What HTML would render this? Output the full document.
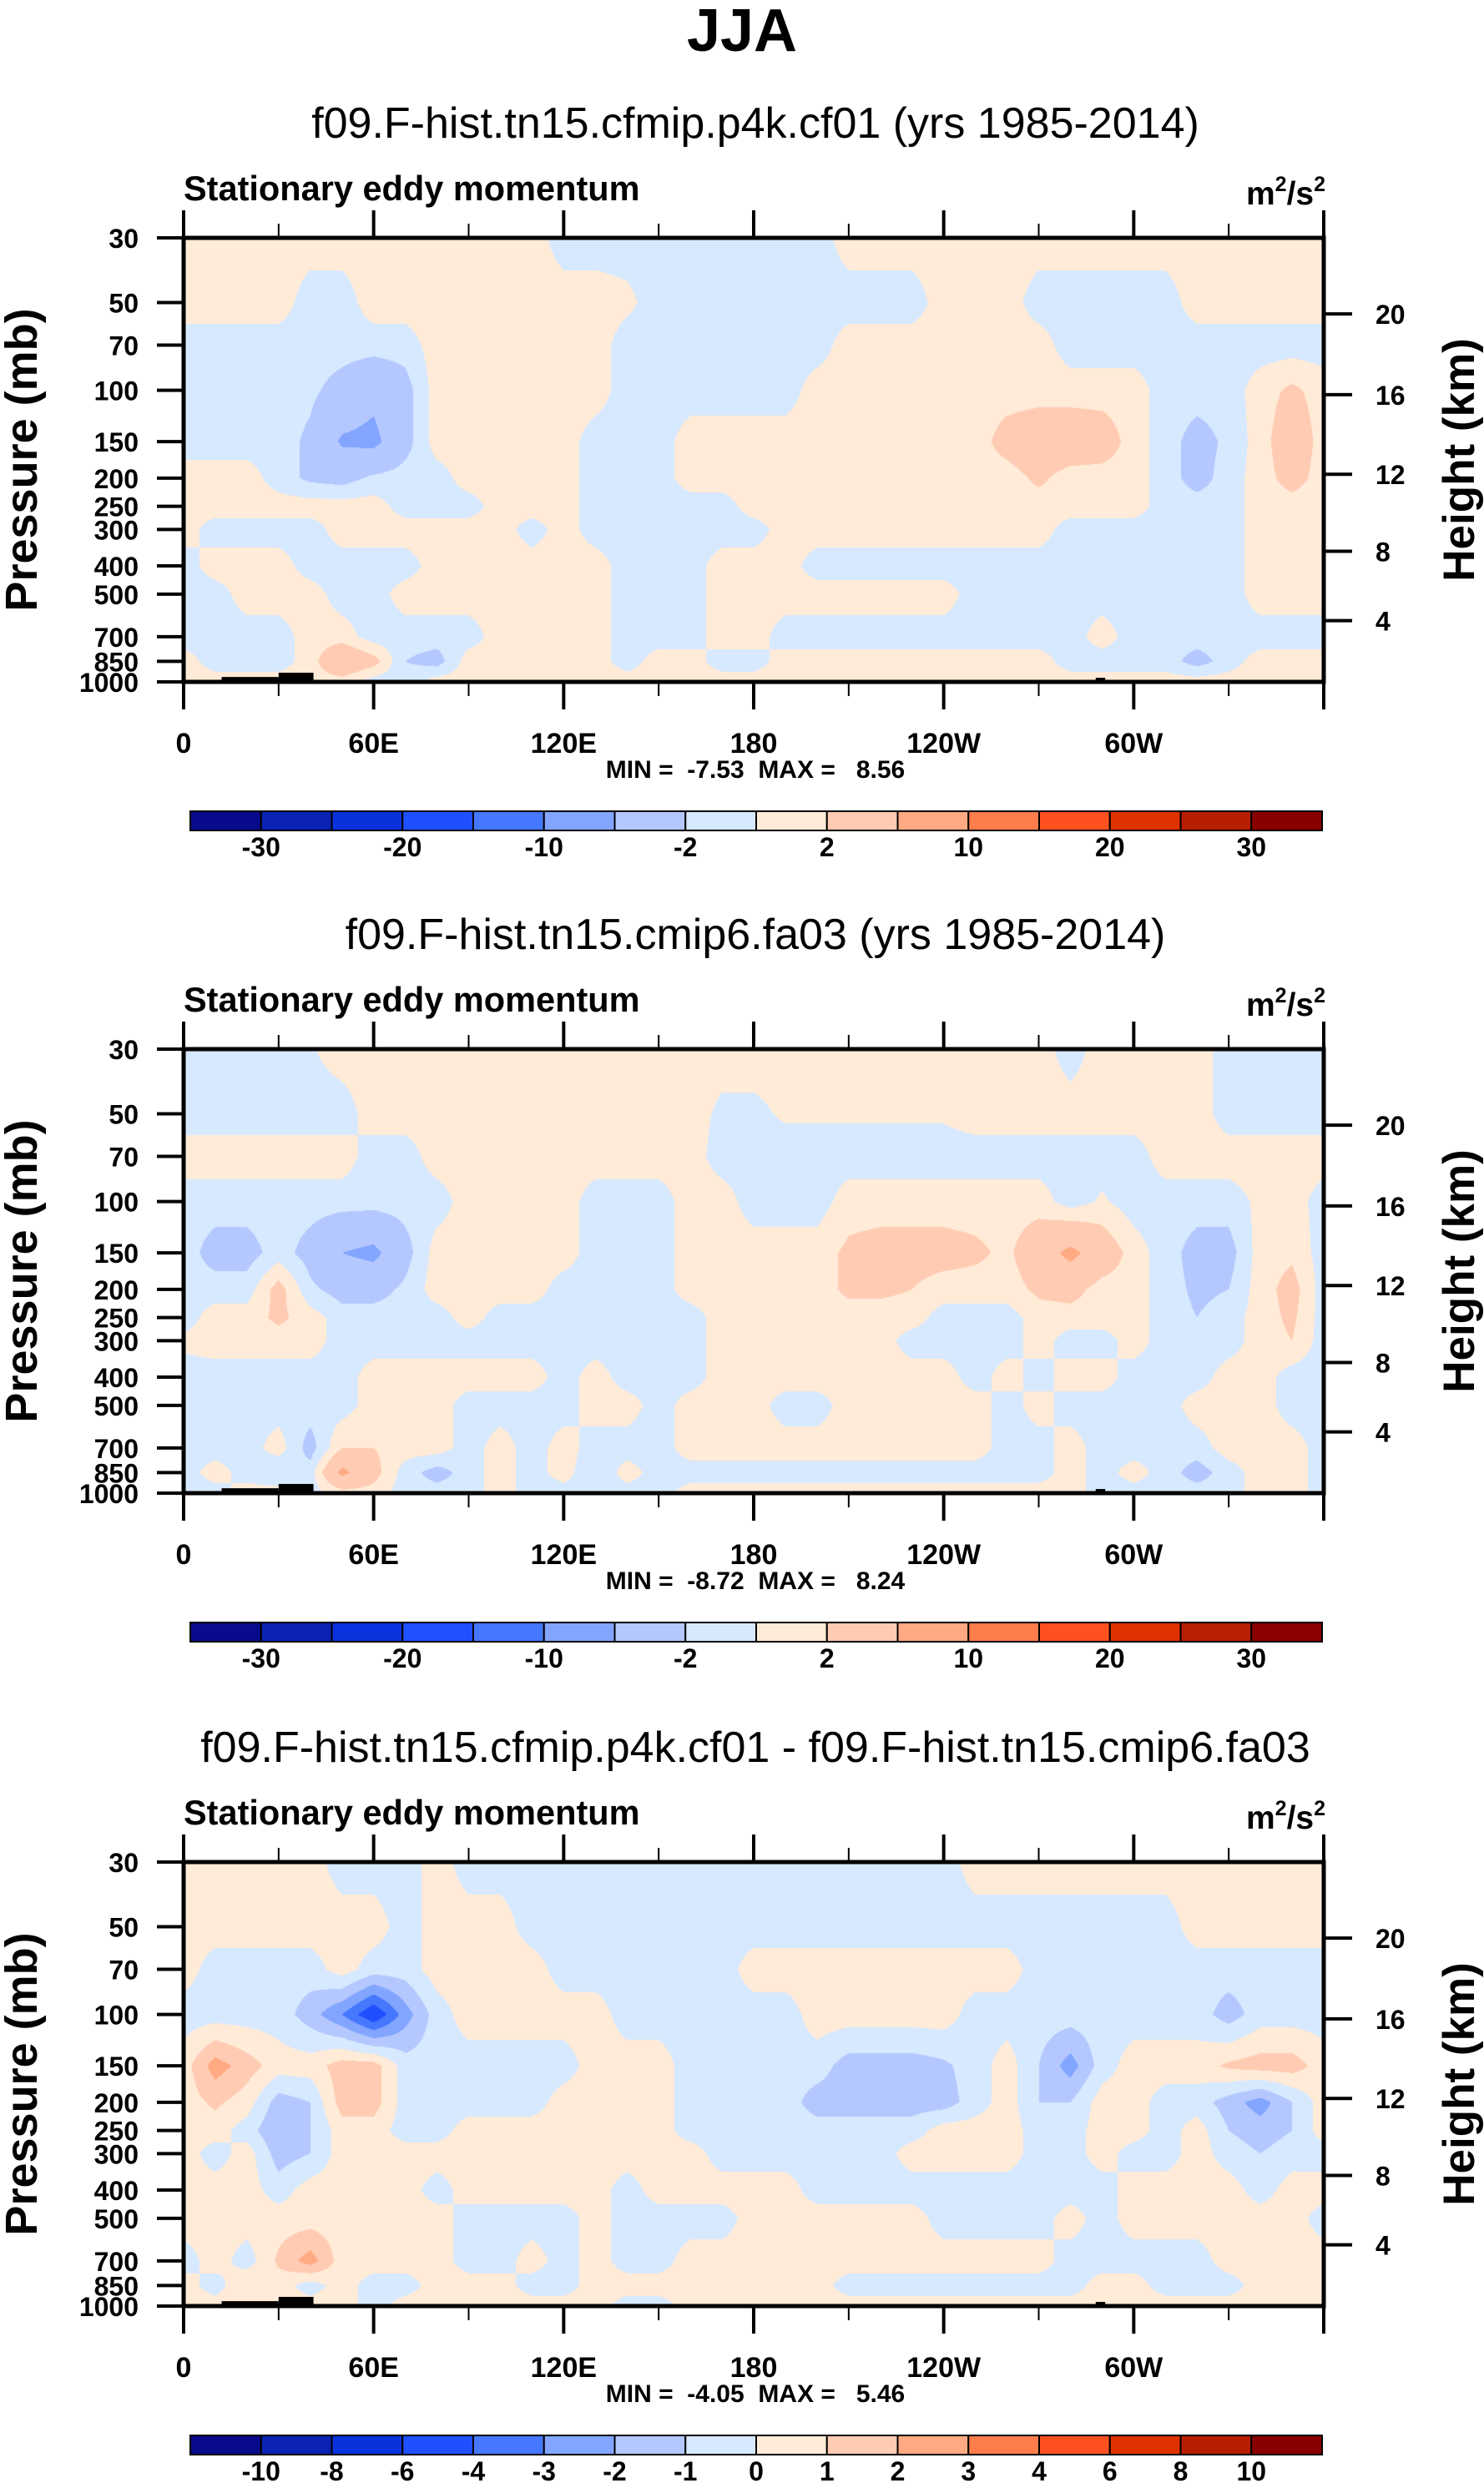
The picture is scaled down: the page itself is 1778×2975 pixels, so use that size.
<!DOCTYPE html>
<html><head><meta charset="utf-8"><title>JJA Stationary eddy momentum</title>
<style>
html,body{margin:0;padding:0;background:#fff;}
#wrap{position:relative;width:1778px;height:2975px;overflow:hidden;background:#fff;font-family:"Liberation Sans",sans-serif;}
canvas{position:absolute;}
svg{position:absolute;left:0;top:0;}
text{font-family:"Liberation Sans",sans-serif;}
</style></head>
<body>
<div id="wrap">
<canvas id="c0" width="1366" height="532" style="left:220px;top:285px"></canvas>
<canvas id="c1" width="1366" height="532" style="left:220px;top:1257px"></canvas>
<canvas id="c2" width="1366" height="532" style="left:220px;top:2231px"></canvas>
<svg id="ov" width="1778" height="2975" xmlns="http://www.w3.org/2000/svg">
<text x="889" y="61" text-anchor="middle" font-size="72" font-weight="bold">JJA</text>
</svg>
</div>
<script>
// ---------------- data ----------------
const lonCats = [0,10,20,30,40,50,60,70,80,90,100,110,120,130,140,150,160,170,180,190,200,210,220,230,240,250,260,270,280,290,300,310,320,330,340,350,360];
const presLevels = [30,50,70,100,150,200,250,300,400,500,700,850,1000];
const levelsAbs = [-30,-25,-20,-15,-10,-6,-2,0,2,6,10,15,20,25,30];
const levelsDiff = [-10,-8,-6,-4,-3,-2,-1,0,1,2,3,4,6,8,10];
const labelsAbs = ["-30","","-20","","-10","","-2","","2","","10","","20","","30"];
const labelsDiff = ["-10","-8","-6","-4","-3","-2","-1","0","1","2","3","4","6","8","10"];
const xTickLabels = ["0","60E","120E","180","120W","60W"];
const pTickLabels = [30,50,70,100,150,200,250,300,400,500,700,850,1000];
const hTickLabels = [4,8,12,16,20];
const hTickPres = [616.6,356.5,194.0,103.5,54.7];
const subtitles = ["f09.F-hist.tn15.cfmip.p4k.cf01 (yrs 1985-2014)","f09.F-hist.tn15.cmip6.fa03 (yrs 1985-2014)","f09.F-hist.tn15.cfmip.p4k.cf01 - f09.F-hist.tn15.cmip6.fa03"];
const minMax = ["MIN =  -7.53  MAX =   8.56","MIN =  -8.72  MAX =   8.24","MIN =  -4.05  MAX =   5.46"];
const topoLon0 = [12,30,288,291];
const topoLon1 = [30,41,291,308];
const topoPres = [962,930,968,988];

const p1Vals = [
[1,1,1,1,1,1,1,1,1,1,1,1,-1,-1,-1,-1,-1,-1,-1,-1,-1,1,1,1,1,1,1,1,1,1,1,1,1,1,1,1,1],
[1,1,1,1,-1,-1,1,1,1,1,1,1,1,1,0.5,-1,-1,-1,-1,-1,-1,-1,-1,-1,1,1,1,-1,-1,-1,-1,-1,1,1,1,1,1],
[-1,-1,-1,-1,-1,-1,-1,-1,1,1,1,1,1,1,-1,-1,-1,-1,-1,-1,-1,1,1,1,1,1,1,1,-1,-1,-1,-1,-1,-1,-1,-1,-1],
[-1,-1,-1,-1,-1.5,-3,-5,-3,1,1,1,1,1,1,-1,-1,-1,-1,-1,-1,1,1,1,1,1,1,1,1,1,1,1,-1,-1,-1,1,2.5,1],
[-1,-1,-1,-1,-2.5,-6.5,-7,-3,1,1,1,1,1,-1,-1,-1,1,1,1,1,1,1,1,1,1,1,3,4,4,3.5,1,-1,-3,-1.5,1,4,1],
[1,1,1,-1,-2.5,-3,-1.5,-1,-1,1,1,1,1,-1,-1,-1,1,1,1,1,1,1,1,1,1,1,1,2.5,1,1,1,-1,-3,-1,1,3,1],
[1,1,1,1,1,1,1,-1,-1,-1,1,1,1,-1,-1,-1,-1,-1,1,1,1,1,1,1,1,1,1,1,1,1,1,-1,-1,-1,1,1,1],
[1,-1,-1,-1,-1,1,1,1,1,1,1,-1,1,-1,-1,-1,-1,-1,-1,1,1,1,1,1,1,1,1,1,-1,-1,-1,-1,-1,-1,1,1,1],
[-1,1,1,1,-1,-1,-1,-1,1,1,1,1,1,1,-1,-1,-1,1,1,1,-1,-1,-1,-1,-1,-1,-1,-1,-1,-1,-1,-1,-1,-1,1,1,1],
[-1,-1,1,1,1,-1,-1,1,1,1,1,1,1,1,-1,-1,-1,1,1,1,1,1,1,1,1,-1,-1,-1,-1,-1,-1,-1,-1,-1,1,1,1],
[-1,-1,-1,-1,1,1,-1,-1,-1,-1,1,1,1,1,-1,-1,-1,1,1,-1,-1,-1,-1,-1,-1,-1,-1,-1,-1,1,-1,-1,-1,-1,-1,-1,-1],
[1,-1,-1,-1,1,5,3,-2,-3,1,1,1,1,1,-1,1,1,-1,-1,1,1,1,1,1,1,1,1,1,-1,-1,-1,-1,-3,-1,1,1,1],
[1,1,1,1,1,1,-1,-1,1,1,1,1,1,1,1,1,1,1,1,1,1,1,1,1,1,1,1,1,1,1,1,1,1,1,1,1,1]
];
const p2Vals = [
[-1,-1,-1,-1,-0.2,1,1,1,1,1,1,1,1,1,1,1,1,1,1,1,1,1,1,1,1,1,1,1,-1,1,1,1,1,-1,-1,-1,-1],
[-1,-1,-1,-1,-1,-1,1,1,1,1,1,1,1,1,1,1,1,-0.5,-0.5,0.3,0.3,0.3,0.3,0.3,0.3,1,1,1,1,1,1,1,1,-1,-1,-1,-1],
[1,1,1,1,1,1,-1,-1,1,1,1,1,1,1,1,1,1,-1,-1,-1,-1,-1,-1,-1,-1,-1,-1,-1,-1,-1,-1,1,1,1,1,1,1],
[-1,-1,-1,-1,-1,-1,-1,-1,-1,1,1,1,1,-1,-1,-1,1,1,-1,-1,-1,1,1,1,1,1,1,1,-1,0.3,-1,-1,-1,-1,0.5,1,-1],
[-1,-3,-3,-1,-3,-6,-7,-3,1,1,1,1,1,-1,-1,-1,1,1,1,1,1,2.5,3,3,3,2.5,1.5,4,7,4,1,-1,-3,-3,1,1.5,-1],
[-1,-1,-1,3,-1.5,-3,-3,-1.5,1,1,1,1,-1,-1,-1,-1,1,1,1,1,1,2.5,2.5,2,1,1,1,2.5,3,1,1,-1,-2.5,-2,1,3,-1],
[-1,1,1,2.5,1,-1,-1,-1,-1,1,-1,-1,-1,-1,-1,-1,-1,1,1,1,1,1,1,1,-1,-1,-1,1,1,1,1,-1,-2,-1,1,2.5,-1],
[0.5,1,1,1,1,-1,-1,-1,-1,-1,-1,-1,-1,-1,-1,-1,-1,1,1,1,1,1,1,-1,-1,-1,-1,1,-1,-1,1,-1,-1,-1,1,2,-1],
[-1,-1,-1,-1,-1,-1,1,1,1,1,1,1,-1,1,-1,-1,-1,1,1,1,1,1,1,1,1,-1,1,-1,1,1,-1,-1,-1,1,1,-1,-1],
[-1,-1,-1,-1,-1,-1,1,1,1,-1,-1,-1,-1,1,1,-1,1,1,1,-1,-1,1,1,1,1,1,-1,1,-1,-1,-1,-1,1,1,1,-1,-1],
[-1,-1,-1,1,-3,2,2,1,1,-1,1,-1,1,-1,-1,-1,1,1,1,1,1,1,1,1,1,1,-1,-1,1,-1,-1,-1,-1,1,1,1,-1],
[-1,1,-1,-2,-1,7,3,-1,-3,-1,1,-1,1,-2,1,-1,-1,-1,-1,-1,-1,-1,-1,-1,-1,-1,-1,-1,1,-1,1,-1,-3,-1,1,1,-1],
[-1,-1,1,1,-1,1,1,-1,-1,-1,1,-1,-1,-1,-1,-1,1,1,1,1,1,1,1,1,1,1,1,1,1,-1,-1,-1,-1,-1,1,1,-1]
];
const p3Vals = [
[0.5,0.5,0.5,0.5,0.5,-0.5,-0.5,-0.5,0.5,-0.5,-0.5,-0.5,-0.5,-0.5,-0.5,-0.5,-0.5,-0.5,-0.5,-0.5,-0.5,-0.5,-0.5,-0.5,-0.5,0.5,0.5,0.5,0.5,0.5,0.5,0.5,0.5,0.5,0.5,0.5,0.5],
[0.5,0.5,0.5,0.5,0.5,0.5,0.5,-0.5,0.5,0.5,0.5,-0.5,-0.5,-0.5,-0.5,-0.5,-0.5,-0.5,-0.5,-0.5,-0.5,-0.5,-0.5,-0.5,-0.5,-0.5,-0.5,-0.5,-0.5,-0.5,-0.5,-0.5,0.5,0.5,0.5,0.5,0.5],
[0.5,-0.5,-0.5,-0.5,-0.5,0.5,-0.5,-0.5,0.5,0.5,0.5,0.5,-0.5,-0.5,-0.5,-0.5,-0.5,-0.5,0.5,0.5,0.5,0.5,0.5,0.5,0.5,0.5,0.5,-0.5,-0.5,-0.5,-0.5,-0.5,-0.5,-0.5,-0.5,-0.5,-0.5],
[-0.5,-0.5,-0.5,-0.5,-1.5,-3,-5,-2.5,-0.5,0.5,0.5,0.5,0.5,0.5,-0.5,-0.5,-0.5,-0.5,-0.5,-0.5,0.5,0.5,0.5,0.5,0.5,-0.5,-0.5,-0.5,-0.5,-0.5,-0.5,-0.5,-0.5,-1.5,-0.5,-0.5,-0.5],
[0.5,2.5,1.5,0.5,0.5,1.5,1.5,-0.5,-0.5,-0.5,-0.5,-0.5,-0.5,0.5,0.5,0.5,-0.5,-0.5,-0.5,-0.5,-0.5,-1.5,-1.5,-1.5,-1.2,-0.5,0.5,-1,-2.5,-0.5,0.5,0.5,0.5,1.2,1.5,1.5,0.5],
[0.5,1.2,0.5,-1.5,-1,1.5,1.5,-0.5,-0.5,-0.5,-0.5,-0.5,0.5,0.5,0.5,0.5,-0.5,-0.5,-0.5,-0.5,-1.5,-1.5,-1.5,-1.5,-1.5,-0.5,0.5,-1,-1,0.5,0.5,-0.5,-0.5,-1.5,-2.5,-1,0.5],
[0.5,0.5,-0.5,-2,-1,0.5,0.5,-0.5,-0.5,0.5,0.5,0.5,0.5,0.5,0.5,0.5,-0.5,-0.5,-0.5,-0.5,-0.5,-0.5,-0.5,-0.5,0.5,0.5,0.5,-0.5,-0.5,0.5,0.5,-0.5,0.5,-1,-1.5,-1,0.5],
[0.5,-0.5,0.5,-1.5,-1,0.5,0.5,0.5,0.5,0.5,0.5,0.5,0.5,0.5,0.5,0.5,0.5,-0.5,-0.5,-0.5,-0.5,-0.5,-0.5,0.5,0.5,0.5,0.5,-0.5,-0.5,0.5,-0.5,-0.5,0.5,-0.5,-1,-0.5,-0.5],
[0.5,0.5,0.5,-0.5,0.5,0.5,0.5,0.5,-0.5,0.5,0.5,0.5,0.5,0.5,-0.5,0.5,0.5,0.5,0.5,0.5,-0.5,-0.5,-0.5,-0.5,-0.5,-0.5,-0.5,-0.5,-0.5,-0.5,0.5,0.5,0.5,0.5,-0.5,0.5,0.5],
[0.5,0.5,0.5,0.5,0.5,0.5,0.5,0.5,0.5,-0.5,-0.5,-0.5,-0.5,0.5,-0.5,-0.5,-0.5,-0.5,0.5,0.5,0.5,0.5,0.5,0.5,-0.5,-0.5,-0.5,-0.5,0.5,-0.5,0.5,0.5,0.5,0.5,0.5,0.5,-0.5],
[-0.5,0.5,-0.5,1.2,2.5,0.5,0.5,0.5,0.5,-0.5,-0.5,0.5,-0.5,0.5,-0.5,-0.5,0.5,0.5,0.5,0.5,0.5,0.5,0.5,0.5,0.5,0.5,0.5,0.5,-0.5,-0.5,-0.5,-0.5,-0.5,0.5,0.5,0.5,0.5],
[0.5,-0.5,1,0.5,-0.5,0.5,-0.5,-0.5,0.5,0.5,0.5,-0.5,-0.5,0.5,0.5,0.5,0.5,0.5,0.5,0.5,0.5,-0.5,-0.5,-0.5,-0.5,-0.5,-0.5,-0.5,-0.5,0.5,0.5,-0.5,-0.5,-0.5,0.5,0.5,0.5],
[0.5,0.5,0.5,0.5,0.5,0.5,-0.5,0.5,0.5,0.5,0.5,0.5,0.5,0.5,-0.5,-0.5,0.5,0.5,0.5,0.5,0.5,0.5,0.5,0.5,0.5,0.5,0.5,0.5,0.5,0.5,0.5,0.5,0.5,0.5,0.5,0.5,0.5]
];

// ---------------- styling / geometry ----------------
const COLORS = ["#0a0a8c","#0a23b4","#0a32dc","#1e50ff","#4678ff","#82a5ff","#b4c8ff","#d7e9fe","#ffebd8","#ffcbb2","#ffaa82","#ff7d4b","#ff5020","#e03200","#b81e00","#8a0000"];
const PL = 220, PW = 1366, PH = 532;
const TOPS = [285, 1257, 2231];
const NS = "http://www.w3.org/2000/svg";
const svg = document.getElementById('ov');

function xOf(lon){ return PL + lon / 360 * PW; }
function yOf(p, top){ return top + PH * Math.log(p / 30) / Math.log(1000 / 30); }
function hex(c){ return [parseInt(c.substr(1,2),16),parseInt(c.substr(3,2),16),parseInt(c.substr(5,2),16)]; }
const RGB = COLORS.map(hex);

function mk(tag, attrs, txt){
  const e = document.createElementNS(NS, tag);
  for (const k in attrs) e.setAttribute(k, attrs[k]);
  if (txt !== undefined) e.textContent = txt;
  svg.appendChild(e);
  return e;
}

function drawField(canvas, vals, levels){
  const ctx = canvas.getContext('2d');
  const W = canvas.width, H = canvas.height;
  const img = ctx.createImageData(W, H);
  const lp = presLevels.map(p => Math.log(p));
  const step = lonCats[1] - lonCats[0];
  for (let py = 0; py < H; py++){
    const p = 30 * Math.exp((py + 0.5) / H * Math.log(1000 / 30));
    const l = Math.log(p);
    let r = 0;
    while (r < presLevels.length - 2 && l > lp[r + 1]) r++;
    const t = Math.min(1, Math.max(0, (l - lp[r]) / (lp[r + 1] - lp[r])));
    const rowA = vals[r], rowB = vals[r + 1];
    for (let px = 0; px < W; px++){
      const lon = (px + 0.5) / W * 360;
      let c = Math.floor(lon / step); if (c >= lonCats.length - 1) c = lonCats.length - 2;
      const f = (lon - lonCats[c]) / step;
      const v = (rowA[c] * (1 - f) + rowA[c + 1] * f) * (1 - t) + (rowB[c] * (1 - f) + rowB[c + 1] * f) * t;
      let k = 0; while (k < levels.length && v >= levels[k]) k++;
      const col = RGB[k];
      const o = (py * W + px) * 4;
      img.data[o] = col[0]; img.data[o + 1] = col[1]; img.data[o + 2] = col[2]; img.data[o + 3] = 255;
    }
  }
  ctx.putImageData(img, 0, 0);
}

const allVals = [p1Vals, p2Vals, p3Vals];
for (let i = 0; i < 3; i++){
  const top = TOPS[i];
  const levels = i < 2 ? levelsAbs : levelsDiff;
  const labels = i < 2 ? labelsAbs : labelsDiff;
  drawField(document.getElementById('c' + i), allVals[i], levels);
  const bottom = top + PH;

  for (let j = 0; j < topoLon0.length; j++){
    const yt = yOf(topoPres[j], top);
    const r = mk('rect', {x: xOf(topoLon0[j]), y: yt, width: xOf(topoLon1[j]) - xOf(topoLon0[j]), height: bottom - yt, fill: '#000'});
    
    
  }

  let e = mk('text', {x: 905, y: top - 120, 'text-anchor': 'middle', 'font-size': 52}, subtitles[i]);
  
  
  e = mk('text', {x: 220, y: top - 45, 'font-size': 41.5, 'font-weight': 'bold'}, 'Stationary eddy momentum');
  
  
  e = mk('text', {x: 1588, y: top - 40, 'text-anchor': 'end', 'font-size': 39, 'font-weight': 'bold'});
  e.innerHTML = 'm<tspan dy="-16" font-size="25">2</tspan><tspan dy="16">/s</tspan><tspan dy="-16" font-size="25">2</tspan>';
  
  

  e = mk('rect', {x: PL, y: top, width: PW, height: PH, fill: 'none', stroke: '#000', 'stroke-width': 5});
  
  

  for (let lon = 0; lon <= 360; lon += 30){
    const major = lon % 60 === 0;
    const len = major ? 33 : 17;
    const x = xOf(lon);
    e = mk('line', {x1: x, x2: x, y1: top, y2: top - len, stroke: '#000', 'stroke-width': major ? 4 : 2});
    
    
    e = mk('line', {x1: x, x2: x, y1: bottom, y2: bottom + len, stroke: '#000', 'stroke-width': major ? 4 : 2});
    
    
  }
  for (let j = 0; j < xTickLabels.length; j++){
    e = mk('text', {x: xOf(j * 60), y: bottom + 85, 'text-anchor': 'middle', 'font-size': 34, 'font-weight': 'bold'}, xTickLabels[j]);
    
    
  }
  e = mk('text', {x: 905, y: bottom + 115, 'text-anchor': 'middle', 'font-size': 30, 'font-weight': 'bold', 'xml:space': 'preserve', style: 'white-space:pre'}, minMax[i]);
  
  

  for (let j = 0; j < pTickLabels.length; j++){
    const y = yOf(pTickLabels[j], top);
    e = mk('line', {x1: PL - 32, x2: PL, y1: y, y2: y, stroke: '#000', 'stroke-width': 4});
    
    
    e = mk('text', {x: 166, y: y + 12, 'text-anchor': 'end', 'font-size': 32, 'font-weight': 'bold'}, String(pTickLabels[j]));
    
    
  }
  for (let j = 0; j < hTickLabels.length; j++){
    const y = yOf(hTickPres[j], top);
    e = mk('line', {x1: PL + PW, x2: PL + PW + 34, y1: y, y2: y, stroke: '#000', 'stroke-width': 4});
    
    
    e = mk('text', {x: 1648, y: y + 12, 'font-size': 32, 'font-weight': 'bold'}, String(hTickLabels[j]));
    
    
  }
  const cy = top + PH / 2;
  e = mk('text', {x: 0, y: 0, transform: 'translate(44,' + cy + ') rotate(-90)', 'text-anchor': 'middle', 'font-size': 54, 'font-weight': 'bold'}, 'Pressure (mb)');
  
  
  e = mk('text', {x: 0, y: 0, transform: 'translate(1766,' + cy + ') rotate(-90)', 'text-anchor': 'middle', 'font-size': 53, 'font-weight': 'bold'}, 'Height (km)');
  
  

  const cbx = 228, cbw = 1356, cby = bottom + 155, cbh = 23, bw = cbw / COLORS.length;
  for (let k = 0; k < COLORS.length; k++){
    e = mk('rect', {x: cbx + k * bw, y: cby, width: bw, height: cbh, fill: COLORS[k], stroke: '#000', 'stroke-width': 2});
    
    
  }
  for (let k = 0; k < labels.length; k++){
    if (!labels[k]) continue;
    e = mk('text', {x: cbx + (k + 1) * bw, y: bottom + 209, 'text-anchor': 'middle', 'font-size': 32, 'font-weight': 'bold'}, labels[k]);
    
    
  }
}
</script>
</body></html>
